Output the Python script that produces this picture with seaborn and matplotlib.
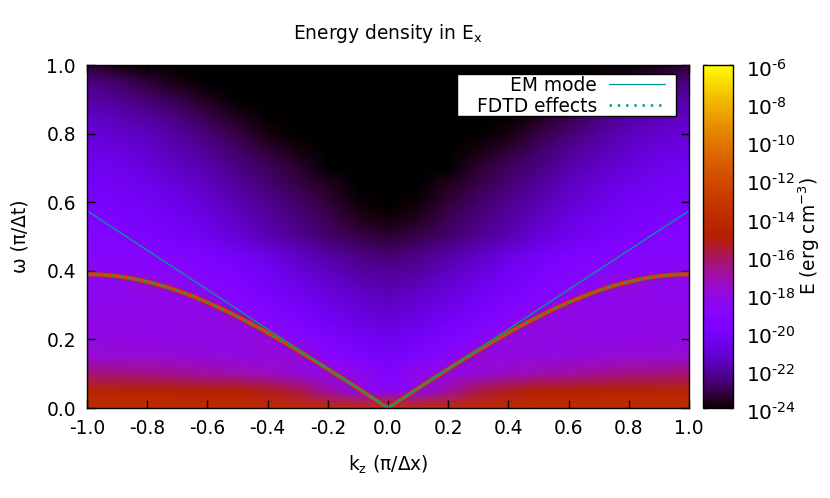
import numpy as np
import pandas as pd
import matplotlib.pyplot as plt
import seaborn as sns
from matplotlib.colors import ListedColormap
from matplotlib.patches import Rectangle
from matplotlib.transforms import ScaledTranslation

sns.set_style("white")
plt.rcParams['font.family'] = ['DejaVu Sans']
plt.rcParams['axes.unicode_minus'] = False
plt.rcParams['text.color'] = 'black'
plt.rcParams['axes.labelcolor'] = 'black'
plt.rcParams['xtick.color'] = 'black'
plt.rcParams['ytick.color'] = 'black'

# log10(E), the map is mirrored around k=0
k_abs = [0.0, 0.1, 0.2, 0.3, 0.4, 0.5, 0.6, 0.7, 0.8, 0.9, 1.0]
omega = [1.00, 0.95, 0.90, 0.85, 0.80, 0.75, 0.70, 0.65, 0.60, 0.55, 0.50,
         0.45, 0.40, 0.35, 0.30, 0.25, 0.20, 0.15, 0.10, 0.05, 0.00]
log_energy = [
    [-24.0, -24.0, -24.0, -24.0, -24.0, -24.0, -24.0, -24.0, -24.0, -23.8, -23.3],
    [-24.0, -24.0, -24.0, -24.0, -24.0, -24.0, -24.0, -23.8, -23.3, -22.8, -22.4],
    [-24.0, -24.0, -24.0, -24.0, -24.0, -24.0, -23.7, -23.1, -22.6, -22.2, -21.9],
    [-24.0, -24.0, -24.0, -24.0, -24.0, -23.7, -23.1, -22.5, -22.1, -21.7, -21.4],
    [-24.0, -24.0, -24.0, -24.0, -23.8, -23.2, -22.6, -22.1, -21.6, -21.3, -21.0],
    [-24.0, -24.0, -24.0, -23.8, -23.3, -22.8, -22.2, -21.7, -21.3, -20.9, -20.7],
    [-24.0, -24.0, -24.0, -23.4, -22.9, -22.4, -21.8, -21.4, -21.0, -20.6, -20.4],
    [-24.0, -24.0, -23.6, -23.1, -22.6, -22.1, -21.5, -21.0, -20.6, -20.3, -20.1],
    [-24.0, -23.9, -23.3, -22.8, -22.3, -21.8, -21.2, -20.7, -20.3, -20.0, -19.8],
    [-23.9, -23.6, -23.0, -22.5, -22.0, -21.4, -20.9, -20.4, -20.0, -19.7, -19.5],
    [-23.4, -23.1, -22.7, -22.2, -21.7, -21.1, -20.5, -20.0, -19.7, -19.4, -19.2],
    [-22.7, -22.4, -22.0, -21.5, -20.9, -20.3, -19.7, -19.4, -19.2, -19.1, -19.0],
    [-22.2, -22.0, -21.5, -21.0, -20.4, -19.8, -19.3, -19.0, -18.9, -18.8, -18.6],
    [-21.8, -21.5, -21.1, -20.6, -20.0, -19.4, -19.0, -18.5, -18.0, -18.4, -18.4],
    [-21.4, -21.1, -20.7, -20.1, -19.5, -19.0, -18.2, -18.4, -18.4, -18.4, -18.4],
    [-21.0, -20.7, -20.2, -19.6, -19.0, -18.0, -18.2, -18.3, -18.3, -18.3, -18.3],
    [-20.6, -20.2, -19.6, -19.0, -17.9, -18.2, -18.2, -18.2, -18.2, -18.1, -18.1],
    [-20.1, -19.6, -18.9, -17.8, -18.1, -18.0, -18.0, -17.9, -17.8, -17.8, -17.8],
    [-19.5, -18.3, -18.2, -18.0, -17.5, -17.2, -17.0, -16.8, -16.6, -16.5, -16.4],
    [-18.7, -18.5, -17.0, -15.8, -15.3, -15.0, -14.9, -14.8, -14.8, -14.7, -14.7],
    [-14.0, -14.0, -14.0, -14.0, -14.0, -14.0, -14.0, -14.0, -14.0, -14.0, -14.0],
]

# the two modes for k >= 0
k_em = [0.0, 0.1, 0.2, 0.3, 0.4, 0.5, 0.6, 0.7, 0.8, 0.9, 1.0]
em_mode = [0.0, 0.0575, 0.115, 0.1725, 0.23, 0.2875, 0.345, 0.4025, 0.46, 0.5175, 0.575]
k_fdtd = [0.0, 0.05, 0.1, 0.15, 0.2, 0.25, 0.3, 0.35, 0.4, 0.45, 0.5,
          0.55, 0.6, 0.65, 0.7, 0.75, 0.8, 0.85, 0.9, 0.95, 1.0]
fdtd_mode = [0.0, 0.0287, 0.0574, 0.0857, 0.1137, 0.1413, 0.168, 0.1942, 0.2196, 0.2437, 0.2665,
             0.2881, 0.308, 0.3262, 0.3424, 0.3566, 0.368, 0.3777, 0.3845, 0.3886, 0.39]

cb_ticks = [-24, -22, -20, -18, -16, -14, -12, -10, -8, -6]
cb_minor = [-23, -21, -19, -17, -15, -13, -11, -9, -7]
x_ticks = [-1.0, -0.8, -0.6, -0.4, -0.2, 0.0, 0.2, 0.4, 0.6, 0.8, 1.0]
y_ticks = [0.0, 0.2, 0.4, 0.6, 0.8, 1.0]

FS = 13.4

# gnuplot default palette (rgbformulae 7,5,15)
t = np.linspace(0, 1, 256)
cmap = ListedColormap(np.column_stack([np.sqrt(t), t**3, np.clip(np.sin(2 * np.pi * t), 0, 1)]))

half = np.array(log_energy)
grid = np.hstack([half[:, :0:-1], half])
k_labels = [-v for v in k_abs[:0:-1]] + k_abs
df = pd.DataFrame(grid, index=omega, columns=k_labels)

W, H = 830, 498
fig = plt.figure(figsize=(W / 100, H / 100), dpi=100)
pos = [87 / W, 1 - 408 / H, 602 / W, 343 / H]
ax_map = fig.add_axes(pos)
cax = fig.add_axes([703 / W, 1 - 408 / H, 30 / W, 343 / H])

sns.heatmap(df, ax=ax_map, cbar_ax=cax, cmap=cmap, vmin=-24, vmax=-6,
            shading='gouraud', cbar_kws={'ticks': cb_ticks})
ax_map.set_xlim(0, len(k_labels) - 1)
ax_map.set_ylim(len(omega) - 1, 0)
ax_map.axis('off')

# colorbar
cbar = ax_map.collections[0].colorbar
cbar.outline.set_linewidth(1)
cbar.outline.set_edgecolor('black')
cax.set_yticks(cb_minor, minor=True)
cax.set_yticklabels([f'$\\mathregular{{10^{{\\text{{{v}}}}}}}$' for v in cb_ticks], fontsize=14.5)
cax.tick_params(which='both', direction='in', left=True, right=True, length=3, width=1, color='black', pad=9)
# gnuplot puts the exponent on the tick, not the 10
shift = ScaledTranslation(0, -3 / 100, fig.dpi_scale_trans)
for lab in cax.get_yticklabels():
    lab.set_transform(lab.get_transform() + shift)
cbar.set_label('E (erg cm$^{\\mathregular{-3}}$)', fontsize=FS, labelpad=1)

# real coordinates on top of the map
ax = fig.add_axes(pos, facecolor='none')
k_em_full = [-v for v in k_em[:0:-1]] + k_em
em_full = em_mode[:0:-1] + em_mode
k_fdtd_full = [-v for v in k_fdtd[:0:-1]] + k_fdtd
fdtd_full = fdtd_mode[:0:-1] + fdtd_mode

# energy ridge under the FDTD curve
sns.lineplot(x=k_fdtd_full, y=fdtd_full, ax=ax, color=cmap((-15.5 + 24) / 18), linewidth=4.6, alpha=0.5, legend=False)
sns.lineplot(x=k_fdtd_full, y=fdtd_full, ax=ax, color=cmap((-12.3 + 24) / 18), linewidth=2.8, legend=False)

teal = '#009c94'
sns.lineplot(x=k_em_full, y=em_full, ax=ax, color=teal, linewidth=0.9, label='EM mode')
sns.lineplot(x=k_fdtd_full, y=fdtd_full, ax=ax, color=teal, linewidth=1.8,
             linestyle=(0, (1.0, 2.3)), label='FDTD effects')

ax.set_xlim(-1, 1)
ax.set_ylim(0, 1)
ax.set_xticks(x_ticks)
ax.set_yticks(y_ticks)
ax.set_xticklabels([f'{v:.1f}' for v in x_ticks])
ax.set_yticklabels([f'{v:.1f}' for v in y_ticks])
ax.tick_params(direction='in', top=True, right=True, bottom=True, left=True,
               length=6, width=1, color='black', labelsize=FS, pad=8)
for s in ax.spines.values():
    s.set_visible(True)
    s.set_color('black')
    s.set_linewidth(1)

ax.set_xlabel('k$_{\\mathregular{z}}$ (π/Δx)', fontsize=FS, labelpad=11)
ax.set_ylabel('ω (π/Δt)', fontsize=FS, labelpad=12)
ax.set_title('Energy density in E$_{\\mathregular{x}}$', fontsize=FS, pad=19, color='black')

# legend box is wider than its entries
ax.add_patch(Rectangle((457 / W, 1 - 116 / H), 219 / W, 42 / H, transform=fig.transFigure,
                       facecolor='white', edgecolor='black', linewidth=1, zorder=4, clip_on=False))
ax.legend(loc='upper right', bbox_to_anchor=(665 / W, 1 - 76 / H), bbox_transform=fig.transFigure,
          borderaxespad=0, borderpad=0, markerfirst=False, frameon=False, fontsize=FS,
          handlelength=3.0, labelspacing=0.1, handletextpad=0.65)

fig.savefig('out.png', dpi=100)
